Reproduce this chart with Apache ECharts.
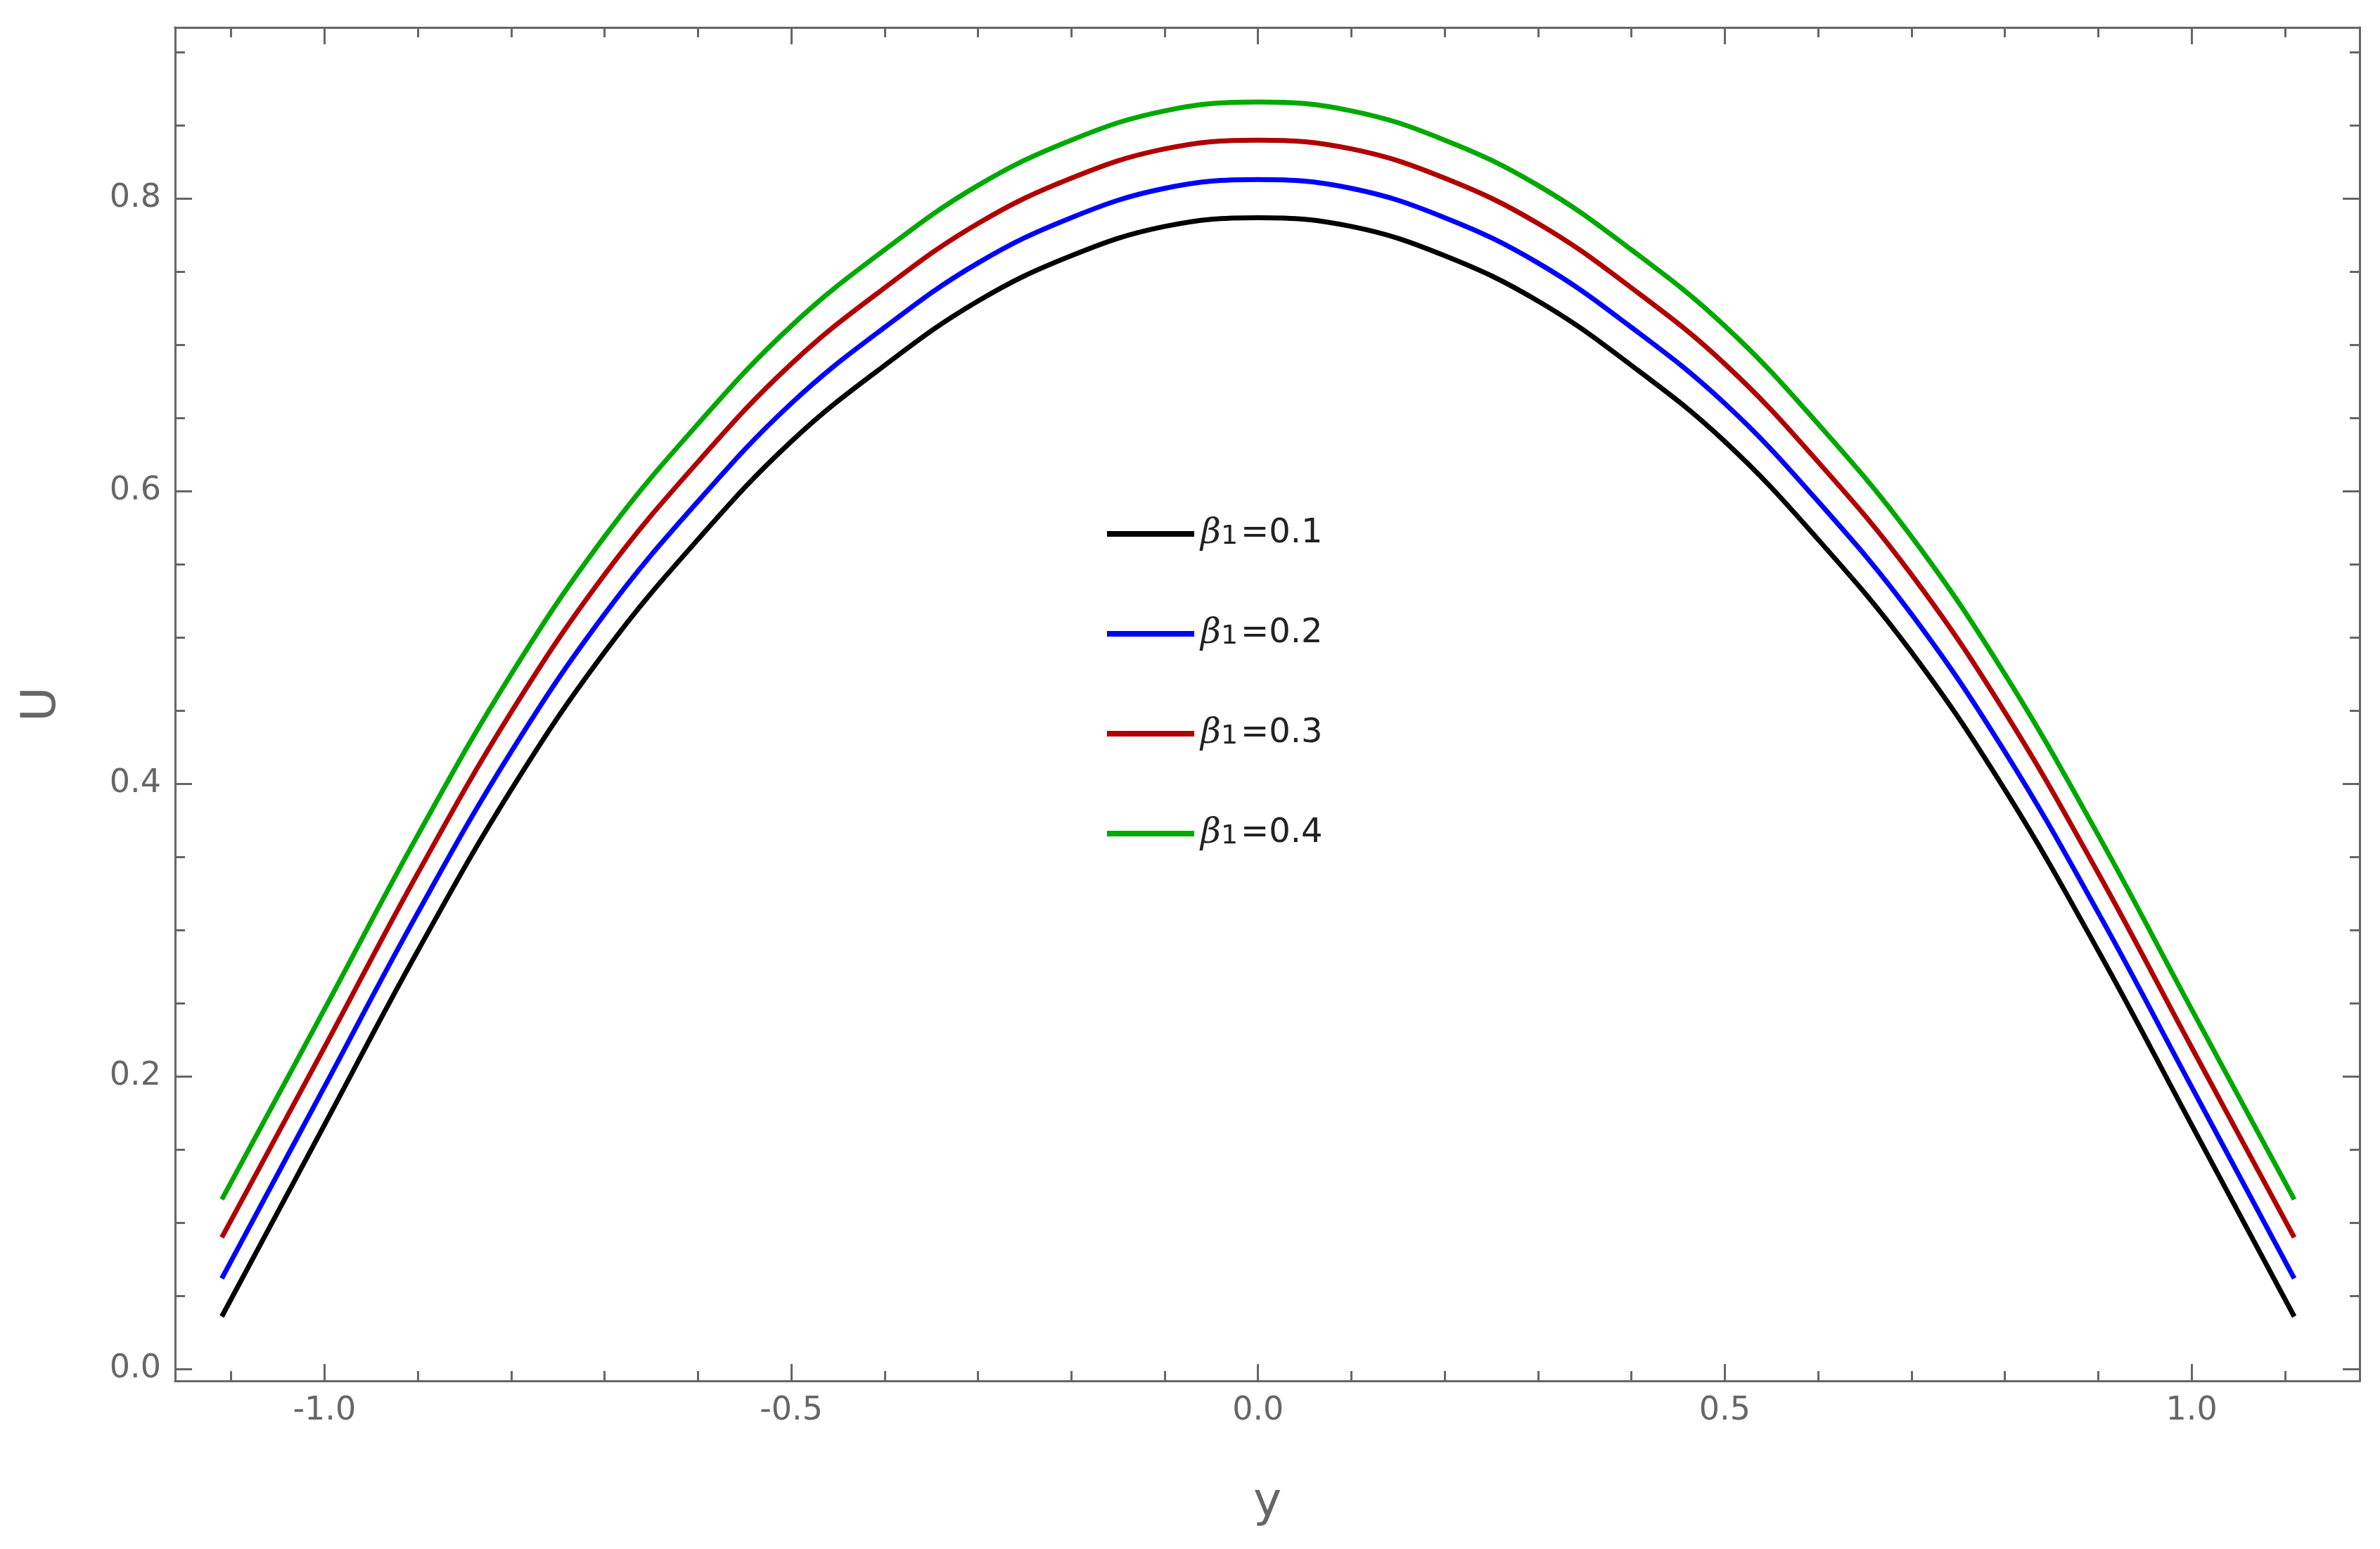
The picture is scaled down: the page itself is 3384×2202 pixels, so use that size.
<!DOCTYPE html>
<html>
<head>
<meta charset="utf-8">
<script src="https://cdn.jsdelivr.net/npm/echarts@6/dist/echarts.min.js"></script>
<style>html,body{margin:0;padding:0;background:#fff}#chart{width:3384px;height:2202px}</style>
</head>
<body>
<div id="chart"></div>
<script>
// y positions
var yVals = [-1.11,-1.0,-0.9,-0.8,-0.7,-0.6,-0.5,-0.4,-0.3,-0.2,-0.1,0.0,0.1,0.2,0.3,0.4,0.5,0.6,0.7,0.8,0.9,1.0,1.11];
// U for beta1 = 0.1 .. 0.4
var u1 = [0.036,0.167,0.286,0.396,0.490,0.567,0.634,0.686,0.730,0.761,0.781,0.787,0.781,0.761,0.730,0.686,0.634,0.567,0.490,0.396,0.286,0.167,0.036];
var u2 = [0.062,0.193,0.312,0.422,0.516,0.593,0.660,0.712,0.756,0.787,0.807,0.813,0.807,0.787,0.756,0.712,0.660,0.593,0.516,0.422,0.312,0.193,0.062];
var u3 = [0.090,0.220,0.339,0.449,0.543,0.620,0.687,0.739,0.783,0.814,0.834,0.840,0.834,0.814,0.783,0.739,0.687,0.620,0.543,0.449,0.339,0.220,0.090];
var u4 = [0.116,0.246,0.365,0.475,0.569,0.646,0.713,0.765,0.809,0.840,0.860,0.866,0.860,0.840,0.809,0.765,0.713,0.646,0.569,0.475,0.365,0.246,0.116];
var names = ['0.1','0.2','0.3','0.4'];
var colors = ['#000000','#0000ff','#b00000','#00a800'];
var xMajor = [-1.0,-0.5,0.0,0.5,1.0];
var xMinor = [-1.1,-0.9,-0.8,-0.7,-0.6,-0.4,-0.3,-0.2,-0.1,0.1,0.2,0.3,0.4,0.6,0.7,0.8,0.9,1.1];
var yMajor = [0.0,0.2,0.4,0.6,0.8];
var yMinor = [0.05,0.1,0.15,0.25,0.3,0.35,0.45,0.5,0.55,0.65,0.7,0.75,0.85,0.9];

var allU = [u1,u2,u3,u4];
var frameColor = '#666';
var labelColor = '#666';

function mkAxis(kind, pos, ticks, len, labels, extra){
	var a = {
		type:'value', position:pos,
		min: kind=='x' ? -1.16 : -0.008,
		max: kind=='x' ? 1.18 : 0.917,
		splitLine:{show:false},
		axisLine:{show:true, onZero:false, lineStyle:{color:frameColor, width:3}},
		axisTick:{show:true, inside:true, length:len, customValues:ticks, lineStyle:{color:frameColor, width:3}},
		axisLabel:{show:labels, customValues:ticks, color:labelColor, fontSize:46, fontFamily:'DejaVu Sans', margin:20,
			formatter:function(v){return v.toFixed(1);}}
	};
	for(var k in extra){a[k]=extra[k];}
	return a;
}

var myChart = echarts.init(document.getElementById('chart'));
var series = [];
for(var i=0;i<4;i++){
	var d = [];
	for(var j=0;j<yVals.length;j++){d.push([yVals[j], allU[i][j]]);}
	series.push({
		name:names[i], type:'line', data:d, smooth:0.4, showSymbol:false,
		lineStyle:{color:colors[i], width:7}, itemStyle:{color:colors[i]}
	});
}
var option = {
	animation:false,
	backgroundColor:'#fff',
	grid:{left:249, right:29, top:39, bottom:239},
	legend:{
		left:1569, top:717, orient:'vertical', itemWidth:124, itemHeight:8, itemGap:80,
		icon:'rect',
		data:names,
		formatter:function(n){return '{b|β}{s|1}{t|='+n+'}';},
		textStyle:{
			color:'#222', padding:[0,0,0,4],
			rich:{
				b:{fontSize:50, lineHeight:46, fontStyle:'italic', fontFamily:'DejaVu Serif', color:'#222'},
				s:{fontSize:38, lineHeight:46, fontFamily:'DejaVu Sans', color:'#222', verticalAlign:'bottom', padding:[22,4,0,0]},
				t:{fontSize:48, lineHeight:46, fontFamily:'DejaVu Sans', color:'#222'}
			}
		}
	},
	xAxis:[
		mkAxis('x','bottom',xMajor,24,true,{name:'y', nameLocation:'middle', nameGap:140,
			nameTextStyle:{color:labelColor, fontSize:68, fontFamily:'DejaVu Sans'}}),
		mkAxis('x','bottom',xMinor,14,false,{}),
		mkAxis('x','top',xMajor,24,false,{}),
		mkAxis('x','top',xMinor,14,false,{})
	],
	yAxis:[
		mkAxis('y','left',yMajor,24,true,{name:'U', nameLocation:'middle', nameGap:155,
			nameTextStyle:{color:labelColor, fontSize:68, fontFamily:'DejaVu Sans'}}),
		mkAxis('y','left',yMinor,14,false,{}),
		mkAxis('y','right',yMajor,24,false,{}),
		mkAxis('y','right',yMinor,14,false,{})
	],
	series:series
};
myChart.setOption(option);
</script>
</body>
</html>
